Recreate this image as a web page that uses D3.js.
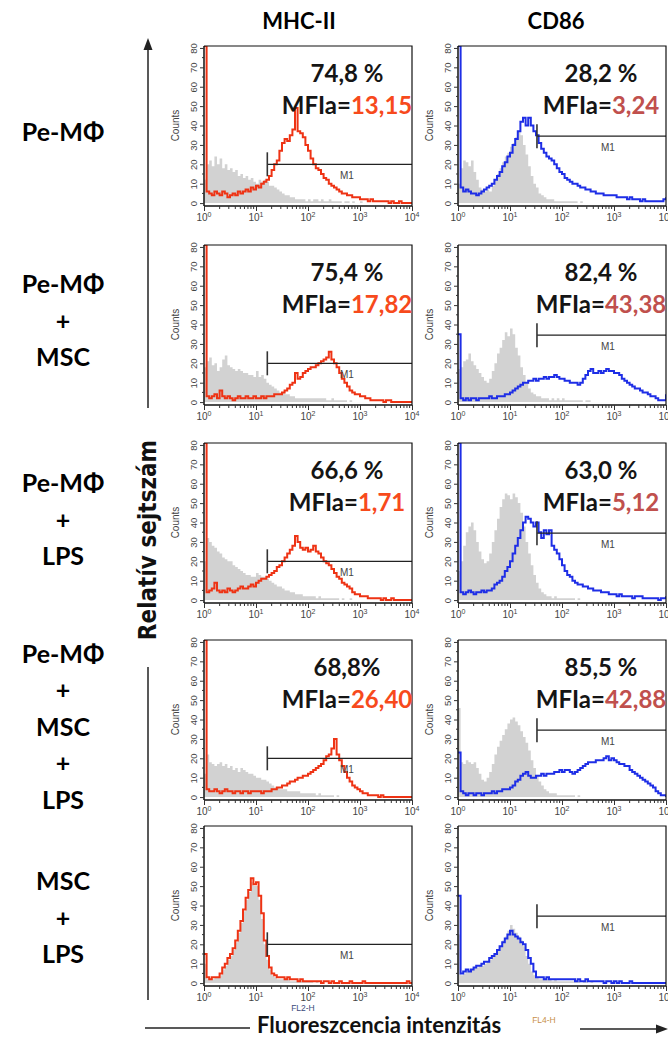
<!DOCTYPE html>
<html>
<head>
<meta charset="utf-8">
<script src="https://cdn.jsdelivr.net/npm/d3@7"></script>
<style>
    body { margin: 0; background: #fff; }
    svg { display: block; }
    .big { font-family: Lato, "Open Sans", sans-serif; font-weight: 700; }
    .small { font-family: "Liberation Sans", Arial, sans-serif; }
</style>
</head>
<body>
<svg id="chart" width="668" height="1037"></svg>
<script>
// ===================================================================
// DATA
// ===================================================================
const markers = ['MHC-II', 'CD86'];
const conditions = [
    ['Pe-MΦ'],
    ['Pe-MΦ', '+', 'MSC'],
    ['Pe-MΦ', '+', 'LPS'],
    ['Pe-MΦ', '+', 'MSC', '+', 'LPS'],
    ['MSC', '+', 'LPS']
];
const positivePct = [['74,8 %', '28,2 %'], ['75,4 %', '82,4 %'], ['66,6 %', '63,0 %'], ['68,8%', '85,5 %'], [null, null]];
const mfiRatio = [['13,15', '3,24'], ['17,82', '43,38'], ['1,71', '5,12'], ['26,40', '42,88'], [null, null]];
const decadeTicks = [1, 10, 100, 1000, 10000];
const countTicks = [0, 10, 20, 30, 40, 50, 60, 70, 80];
const gateStart = [16.5, 33];     // M1 lower bound (linear fluorescence) per marker
const gateLevel = [20, 34.5];     // height (counts) where the M1 bar is drawn
const channelTitle = ['FL2-H', 'FL4-H'];
const channelStep = 0.05;         // log10 units per histogram bin, bins from 10^0 to 10^4

// counts per bin, 81 bins: stained sample (line) and control (grey)
const mhc1 = [85, 6, 5, 4, 6, 5, 4, 6, 5, 3, 4, 5, 4, 6, 5, 6, 7, 6, 8, 7,
    9, 8, 10, 11, 12, 14, 17, 20, 22, 27, 31, 33, 32, 35, 38, 49, 37, 36, 34, 30,
    27, 23, 20, 18, 17, 15, 13, 12, 10, 9, 8, 7, 6, 5, 5, 4, 4, 3, 3, 3,
    2, 2, 2, 1, 2, 1, 1, 1, 1, 1, 1, 0, 1, 0, 0, 1, 0, 0, 0, 0, 0];
const mhcCtl1 = [12, 20, 22, 19, 24, 20, 23, 18, 20, 17, 18, 16, 17, 14, 15, 13, 14, 12, 13, 11,
    10, 12, 11, 12, 11, 9, 9, 8, 7, 6, 5, 4, 4, 3, 3, 2, 2, 2, 2, 1,
    2, 1, 2, 2, 1, 2, 1, 1, 2, 1, 1, 1, 1, 0, 1, 1, 0, 1, 0, 0,
    1, 0, 0, 0, 0, 0, 0, 0, 0, 0, 0, 0, 0, 0, 0, 0, 0, 0, 0, 0, 0];
const cd1 = [85, 8, 6, 7, 6, 5, 5, 4, 5, 6, 7, 8, 9, 10, 12, 14, 16, 19, 21, 24,
    26, 30, 33, 37, 42, 44, 40, 44, 40, 37, 35, 31, 28, 26, 24, 23, 22, 20, 18, 16,
    15, 13, 12, 11, 10, 10, 9, 8, 8, 7, 7, 6, 6, 5, 5, 5, 4, 4, 4, 4,
    4, 3, 3, 3, 3, 2, 3, 2, 2, 2, 1, 2, 1, 1, 1, 1, 1, 1, 1, 2, 3];
const cdCtl1 = [10, 18, 22, 21, 19, 22, 16, 12, 8, 7, 6, 7, 6, 9, 12, 15, 18, 21, 24, 26,
    29, 31, 34, 37, 35, 30, 25, 19, 14, 10, 8, 5, 4, 3, 2, 2, 2, 1, 1, 1,
    1, 1, 1, 1, 1, 1, 0, 1, 0, 0, 0, 0, 0, 0, 0, 0, 0, 0, 0, 0,
    0, 0, 0, 0, 0, 0, 0, 0, 0, 0, 0, 0, 0, 0, 0, 0, 0, 0, 0, 0, 0];

const mhc2 = [85, 3, 2, 3, 4, 2, 6, 3, 2, 3, 2, 1, 2, 3, 2, 2, 3, 2, 2, 3,
    2, 2, 3, 2, 3, 3, 3, 4, 4, 4, 5, 6, 7, 9, 10, 15, 12, 13, 15, 16,
    17, 18, 18, 19, 20, 21, 22, 23, 26, 22, 20, 18, 15, 12, 10, 8, 6, 5, 4, 4,
    3, 3, 2, 2, 1, 1, 1, 1, 1, 0, 1, 1, 0, 0, 0, 0, 0, 0, 0, 0, 0];
const mhcCtl2 = [18, 21, 23, 19, 20, 16, 18, 22, 24, 19, 18, 17, 16, 17, 16, 15, 15, 14, 14, 13,
    16, 13, 14, 12, 10, 9, 8, 7, 6, 5, 5, 4, 4, 3, 3, 2, 2, 2, 2, 2,
    2, 2, 2, 2, 2, 2, 2, 1, 1, 2, 1, 1, 1, 1, 1, 0, 1, 0, 0, 0,
    0, 0, 0, 0, 0, 0, 0, 0, 0, 0, 0, 0, 0, 0, 0, 0, 0, 0, 0, 0, 0];
const cd2 = [35, 2, 1, 2, 1, 2, 2, 1, 2, 2, 2, 2, 3, 2, 2, 3, 3, 3, 4, 4,
    5, 6, 7, 8, 9, 10, 10, 11, 11, 12, 11, 12, 12, 13, 12, 13, 13, 14, 13, 12,
    12, 11, 11, 10, 10, 10, 9, 10, 12, 14, 16, 17, 15, 15, 16, 15, 16, 17, 16, 16,
    15, 15, 14, 12, 11, 10, 9, 8, 7, 7, 6, 5, 5, 4, 3, 3, 2, 1, 1, 1, 4];
const cdCtl2 = [17, 18, 21, 22, 25, 21, 19, 17, 15, 13, 11, 10, 12, 16, 20, 25, 28, 32, 36, 34,
    38, 35, 28, 24, 18, 14, 10, 7, 5, 4, 3, 3, 2, 2, 2, 1, 2, 1, 2, 1,
    2, 1, 1, 1, 1, 1, 1, 1, 0, 1, 1, 0, 0, 0, 0, 0, 0, 0, 0, 0,
    0, 0, 0, 0, 0, 0, 0, 0, 0, 0, 0, 0, 0, 0, 0, 0, 0, 0, 0, 0, 0];

const mhc3 = [85, 4, 5, 6, 9, 5, 4, 5, 4, 6, 5, 4, 5, 6, 7, 6, 6, 7, 8, 7,
    9, 10, 11, 11, 12, 13, 14, 15, 17, 18, 20, 22, 24, 26, 28, 33, 30, 27, 26, 27,
    25, 26, 28, 25, 24, 22, 20, 19, 18, 16, 14, 12, 11, 9, 8, 7, 6, 4, 3, 3,
    2, 2, 2, 1, 1, 1, 1, 1, 0, 1, 0, 0, 1, 0, 0, 0, 0, 0, 0, 0, 0];
const mhcCtl3 = [20, 32, 30, 28, 27, 25, 24, 22, 21, 20, 20, 18, 17, 16, 15, 14, 13, 13, 12, 12,
    14, 13, 12, 12, 11, 10, 9, 8, 7, 7, 6, 5, 5, 4, 4, 3, 3, 3, 2, 2,
    2, 2, 2, 1, 2, 1, 1, 1, 1, 1, 1, 1, 0, 1, 0, 0, 1, 0, 0, 0,
    0, 0, 0, 0, 0, 0, 0, 0, 0, 0, 0, 0, 0, 0, 0, 0, 0, 0, 0, 0, 0];
const cd3 = [85, 4, 3, 4, 5, 4, 3, 4, 4, 5, 4, 5, 5, 6, 8, 9, 10, 12, 15, 17,
    20, 24, 28, 32, 36, 40, 43, 42, 40, 38, 40, 35, 32, 36, 34, 36, 28, 26, 24, 21,
    18, 15, 13, 12, 10, 9, 8, 8, 7, 7, 6, 6, 5, 5, 5, 4, 4, 4, 3, 3,
    3, 2, 3, 2, 2, 2, 2, 1, 2, 2, 2, 1, 1, 1, 1, 1, 1, 0, 1, 1, 2];
const cdCtl3 = [15, 20, 28, 35, 38, 40, 36, 30, 25, 21, 19, 20, 24, 30, 36, 42, 48, 52, 55, 54,
    52, 55, 53, 50, 45, 38, 30, 24, 18, 13, 9, 6, 4, 3, 2, 2, 1, 2, 1, 1,
    1, 1, 1, 1, 1, 0, 1, 0, 0, 0, 0, 0, 0, 0, 0, 0, 0, 0, 0, 0,
    0, 0, 0, 0, 0, 0, 0, 0, 0, 0, 0, 0, 0, 0, 0, 0, 0, 0, 0, 0, 0];

const mhc4 = [85, 4, 3, 3, 4, 3, 2, 3, 4, 3, 3, 2, 3, 3, 2, 3, 3, 2, 3, 3,
    3, 3, 2, 3, 3, 3, 4, 4, 5, 5, 6, 6, 7, 8, 8, 9, 10, 10, 11, 11,
    12, 13, 14, 15, 16, 17, 19, 21, 22, 25, 30, 22, 19, 16, 13, 10, 8, 6, 5, 4,
    3, 2, 2, 1, 1, 1, 1, 0, 1, 0, 0, 0, 0, 0, 0, 0, 0, 0, 0, 0, 0];
const mhcCtl4 = [12, 22, 18, 17, 16, 17, 18, 16, 17, 15, 16, 14, 15, 13, 15, 14, 13, 12, 12, 11,
    10, 10, 9, 9, 8, 7, 6, 5, 5, 4, 4, 4, 3, 3, 3, 3, 3, 2, 2, 2,
    2, 2, 2, 1, 2, 1, 1, 1, 1, 1, 0, 1, 0, 0, 0, 0, 0, 0, 0, 0,
    0, 0, 0, 0, 0, 0, 0, 0, 0, 0, 0, 0, 0, 0, 0, 0, 0, 0, 0, 0, 0];
const cd4 = [23, 3, 2, 1, 2, 2, 1, 2, 2, 1, 2, 2, 2, 3, 2, 3, 3, 4, 4, 4,
    5, 6, 8, 9, 11, 12, 13, 11, 10, 10, 11, 11, 12, 11, 12, 12, 12, 13, 13, 14,
    13, 14, 14, 13, 12, 13, 14, 15, 16, 17, 18, 18, 18, 19, 19, 19, 20, 21, 19, 20,
    19, 18, 17, 17, 16, 16, 14, 13, 12, 11, 10, 9, 8, 7, 6, 5, 3, 2, 1, 1, 0];
const cdCtl4 = [46, 18, 17, 19, 18, 17, 18, 15, 12, 9, 8, 10, 13, 17, 22, 26, 29, 32, 35, 38,
    40, 41, 39, 37, 34, 31, 28, 24, 19, 15, 11, 8, 6, 4, 3, 2, 2, 2, 1, 1,
    1, 1, 1, 1, 1, 0, 1, 0, 0, 0, 0, 0, 0, 0, 0, 0, 0, 0, 0, 0,
    0, 0, 0, 0, 0, 0, 0, 0, 0, 0, 0, 0, 0, 0, 0, 0, 0, 0, 0, 0, 0];

const mhc5 = [15, 3, 2, 3, 3, 3, 5, 8, 10, 13, 15, 18, 22, 27, 32, 38, 44, 48, 54, 51,
    52, 45, 36, 22, 14, 8, 5, 4, 3, 3, 3, 2, 3, 2, 2, 2, 1, 2, 1, 1,
    1, 1, 1, 1, 1, 0, 1, 1, 0, 1, 0, 0, 1, 0, 0, 0, 1, 0, 0, 0,
    0, 1, 0, 0, 0, 0, 0, 0, 0, 0, 0, 0, 0, 0, 0, 0, 0, 0, 1, 0, 0];
const mhcCtl5 = [10, 2, 2, 2, 3, 3, 4, 7, 9, 12, 14, 17, 21, 26, 31, 37, 43, 47, 52, 50,
    50, 43, 33, 20, 12, 7, 4, 3, 2, 2, 2, 2, 2, 1, 1, 1, 1, 1, 1, 1,
    1, 1, 0, 1, 0, 0, 0, 0, 0, 0, 0, 0, 0, 0, 0, 0, 0, 0, 0, 0,
    0, 0, 0, 0, 0, 0, 0, 0, 0, 0, 0, 0, 0, 0, 0, 0, 0, 0, 0, 0, 0];
const cd5 = [45, 5, 6, 7, 6, 7, 8, 9, 9, 10, 11, 11, 13, 14, 15, 17, 19, 21, 23, 25,
    27, 25, 24, 23, 21, 20, 17, 13, 10, 6, 3, 3, 3, 2, 3, 2, 2, 2, 2, 2,
    2, 2, 2, 2, 2, 1, 2, 1, 1, 2, 1, 1, 1, 1, 1, 1, 0, 1, 1, 0,
    1, 0, 1, 0, 0, 0, 1, 0, 0, 0, 0, 0, 0, 0, 0, 0, 0, 0, 0, 0, 0];
const cdCtl5 = [25, 4, 5, 6, 6, 7, 8, 8, 9, 9, 10, 11, 12, 14, 15, 17, 19, 22, 24, 27,
    30, 28, 26, 24, 22, 19, 14, 10, 6, 4, 3, 2, 2, 2, 2, 2, 1, 2, 1, 1,
    1, 1, 1, 1, 1, 1, 1, 0, 1, 1, 0, 1, 0, 0, 0, 0, 0, 0, 0, 0,
    0, 0, 0, 0, 0, 0, 0, 0, 0, 0, 0, 0, 0, 0, 0, 0, 0, 0, 0, 0, 0];

const histograms = [
    [{ sample: mhc1, control: mhcCtl1 }, { sample: cd1, control: cdCtl1 }],
    [{ sample: mhc2, control: mhcCtl2 }, { sample: cd2, control: cdCtl2 }],
    [{ sample: mhc3, control: mhcCtl3 }, { sample: cd3, control: cdCtl3 }],
    [{ sample: mhc4, control: mhcCtl4 }, { sample: cd4, control: cdCtl4 }],
    [{ sample: mhc5, control: mhcCtl5 }, { sample: cd5, control: cdCtl5 }]
];

// ===================================================================
// LAYOUT
// ===================================================================
const colLeft = [204, 458];
const rowTop = [46, 245, 443, 640, 826];
const plotW = 208, plotH = 160;
const lineColor = ['#ee3314', '#1e2ee6'];
const mfiColor = ['#f74a1c', '#c0504d'];

const svg = d3.select('#chart');

const toPoints = arr => arr.map((v, i) => ({ x: Math.pow(10, i * channelStep), y: v }));

// Column headers
markers.forEach((m, c) => {
    svg.append('text')
        .attr('class', 'big')
        .attr('x', colLeft[c] + (c === 0 ? 95 : 98))
        .attr('y', 29)
        .attr('text-anchor', 'middle')
        .attr('font-size', 22)
        .text(m);
});

// Row labels
conditions.forEach((lines, r) => {
    const centre = [132, 321, 520, 727, 918][r];
    const step = 36.5;
    lines.forEach((t, k) => {
        svg.append('text')
            .attr('class', 'big')
            .attr('x', 63)
            .attr('y', centre + (k - (lines.length - 1) / 2) * step + 8.5)
            .attr('text-anchor', 'middle')
            .attr('font-size', 25)
            .text(t);
    });
});

// Panels
histograms.forEach((row, r) => {
    row.forEach((h, c) => {
        const g = svg.append('g')
            .attr('transform', `translate(${colLeft[c]},${rowTop[r]})`);

        const x = d3.scaleLog().domain([1, 10000]).range([0, plotW]);
        const y = d3.scaleLinear().domain([-1.5, 81]).range([plotH, 0]).clamp(true);

        const clipId = `clip-${r}-${c}`;
        g.append('clipPath').attr('id', clipId)
            .append('rect').attr('x', 0).attr('y', 0).attr('width', plotW).attr('height', plotH);

        const plot = g.append('g').attr('clip-path', `url(#${clipId})`);

        // control histogram (grey fill)
        plot.append('path')
            .datum(toPoints(h.control))
            .attr('fill', '#d2d2d2')
            .attr('d', d3.area()
                .x(d => x(d.x))
                .y0(y(0))
                .y1(d => y(d.y))
                .curve(d3.curveStepAfter));

        // stained sample histogram
        plot.append('path')
            .datum(toPoints(h.sample))
            .attr('fill', 'none')
            .attr('stroke', lineColor[c])
            .attr('stroke-width', 2)
            .attr('d', d3.line()
                .x(d => x(d.x))
                .y(d => y(d.y))
                .curve(d3.curveStepAfter));

        // M1 gate
        const gx = x(gateStart[c]), gy = y(gateLevel[c]);
        g.append('line')
            .attr('x1', gx).attr('x2', plotW)
            .attr('y1', gy).attr('y2', gy)
            .attr('stroke', '#222').attr('stroke-width', 1.2);
        g.append('line')
            .attr('x1', gx).attr('x2', gx)
            .attr('y1', gy - 12).attr('y2', gy + 12)
            .attr('stroke', '#333').attr('stroke-width', 1.6);
        g.append('text')
            .attr('class', 'small')
            .attr('x', gx + 0.55 * (plotW - gx))
            .attr('y', gy + 15)
            .attr('text-anchor', 'middle')
            .attr('font-size', 10)
            .attr('fill', '#444')
            .text('M1');

        // frame (top, right)
        g.append('path')
            .attr('d', `M0,0H${plotW}V${plotH}`)
            .attr('fill', 'none')
            .attr('stroke', '#111')
            .attr('stroke-width', 1.2);

        // y axis
        const yAxis = g.append('g')
            .attr('class', 'small')
            .call(d3.axisLeft(y).tickValues(countTicks).tickSize(4).tickSizeOuter(0));
        yAxis.select('.domain').attr('stroke', '#111').attr('stroke-width', 1.5)
            .attr('d', `M0,0V${plotH}`);
        yAxis.selectAll('.tick line').attr('stroke', '#333');
        yAxis.selectAll('.tick text')
            .attr('x', 0).attr('y', -7).attr('dy', 0)
            .attr('transform', 'rotate(-90)')
            .attr('text-anchor', 'middle')
            .attr('font-size', 9.5)
            .attr('fill', '#444');
        g.selectAll('.ytick-minor')
            .data(countTicks.slice(0, -1))
            .join('line')
            .attr('x1', -2).attr('x2', 0)
            .attr('y1', d => y(d + 5)).attr('y2', d => y(d + 5))
            .attr('stroke', '#333');

        g.append('text')
            .attr('class', 'small')
            .attr('transform', `translate(-25,${y(40)}) rotate(-90)`)
            .attr('text-anchor', 'middle')
            .attr('font-size', 10)
            .attr('fill', '#444')
            .text('Counts');

        // x axis
        const xAxis = g.append('g')
            .attr('class', 'small')
            .attr('transform', `translate(0,${plotH})`)
            .call(d3.axisBottom(x).tickValues(decadeTicks).tickSize(5).tickSizeOuter(0).tickFormat(''));
        xAxis.select('.domain').attr('stroke', '#111').attr('stroke-width', 1.5)
            .attr('d', `M0,0H${plotW}`);
        xAxis.selectAll('.tick line').attr('stroke', '#333');

        const minor = [];
        decadeTicks.slice(0, -1).forEach(d => {
            for (let k = 2; k < 10; k++) minor.push(d * k);
        });
        xAxis.selectAll('.xtick-minor')
            .data(minor)
            .join('line')
            .attr('x1', d => x(d)).attr('x2', d => x(d))
            .attr('y1', 0).attr('y2', 3)
            .attr('stroke', '#333');

        const labels = xAxis.selectAll('.xlab')
            .data(decadeTicks)
            .join('text')
            .attr('x', d => x(d))
            .attr('y', 15)
            .attr('text-anchor', 'middle')
            .attr('font-size', 10)
            .attr('fill', '#444');
        labels.append('tspan').text('10');
        labels.append('tspan')
            .attr('dy', -4)
            .attr('font-size', 7)
            .text(d => Math.round(Math.log10(d)));

        if (r === histograms.length - 1) {
            g.append('text')
                .attr('class', 'small')
                .attr('x', x(c === 0 ? 80 : 45))
                .attr('y', plotH + (c === 0 ? 25 : 37))
                .attr('text-anchor', 'middle')
                .attr('font-size', 8.5)
                .attr('fill', c === 0 ? '#3a4a7a' : '#c8904a')
                .text(channelTitle[c]);
        }

        // % positive and MFI ratio
        if (positivePct[r][c]) {
            g.append('text')
                .attr('class', 'big')
                .attr('x', 143)
                .attr('y', 36)
                .attr('text-anchor', 'middle')
                .attr('font-size', 24)
                .attr('fill', '#151515')
                .text(positivePct[r][c]);
            const mfi = g.append('text')
                .attr('class', 'big')
                .attr('x', 143)
                .attr('y', 68)
                .attr('text-anchor', 'middle')
                .attr('font-size', 24)
                .attr('fill', '#151515');
            mfi.append('tspan').text('MFIa=');
            mfi.append('tspan').attr('fill', mfiColor[c]).text(mfiRatio[r][c]);
        }
    });
});

// Vertical axis label with arrow
const ax = 148;
svg.append('line').attr('x1', ax).attr('x2', ax).attr('y1', 48).attr('y2', 408)
    .attr('stroke', '#222').attr('stroke-width', 1.5);
svg.append('path').attr('d', `M${ax - 4.5},50L${ax},38L${ax + 4.5},50Z`).attr('fill', '#222');
svg.append('line').attr('x1', ax).attr('x2', ax).attr('y1', 667).attr('y2', 1000)
    .attr('stroke', '#222').attr('stroke-width', 1.5);
svg.append('text')
    .attr('transform', `translate(${ax + 8},540) rotate(-90)`)
    .attr('text-anchor', 'middle')
    .attr('font-family', '"Liberation Sans Narrow", "DejaVu Sans Condensed", sans-serif')
    .attr('font-weight', 700)
    .attr('font-size', 24)
    .attr('fill', '#111')
    .text('Relatív sejtszám');

// Horizontal axis label with arrow
svg.append('line').attr('x1', 145).attr('x2', 250).attr('y1', 1028).attr('y2', 1028)
    .attr('stroke', '#222').attr('stroke-width', 1.5);
svg.append('text')
    .attr('class', 'big')
    .attr('x', 257)
    .attr('y', 1033)
    .attr('font-size', 22)
    .attr('fill', '#111')
    .text('Fluoreszcencia intenzitás');
svg.append('line').attr('x1', 580).attr('x2', 658).attr('y1', 1029).attr('y2', 1029)
    .attr('stroke', '#222').attr('stroke-width', 1.5);
svg.append('path').attr('d', 'M656,1024.5L668,1029L656,1033.5Z').attr('fill', '#222');
</script>
</body>
</html>
